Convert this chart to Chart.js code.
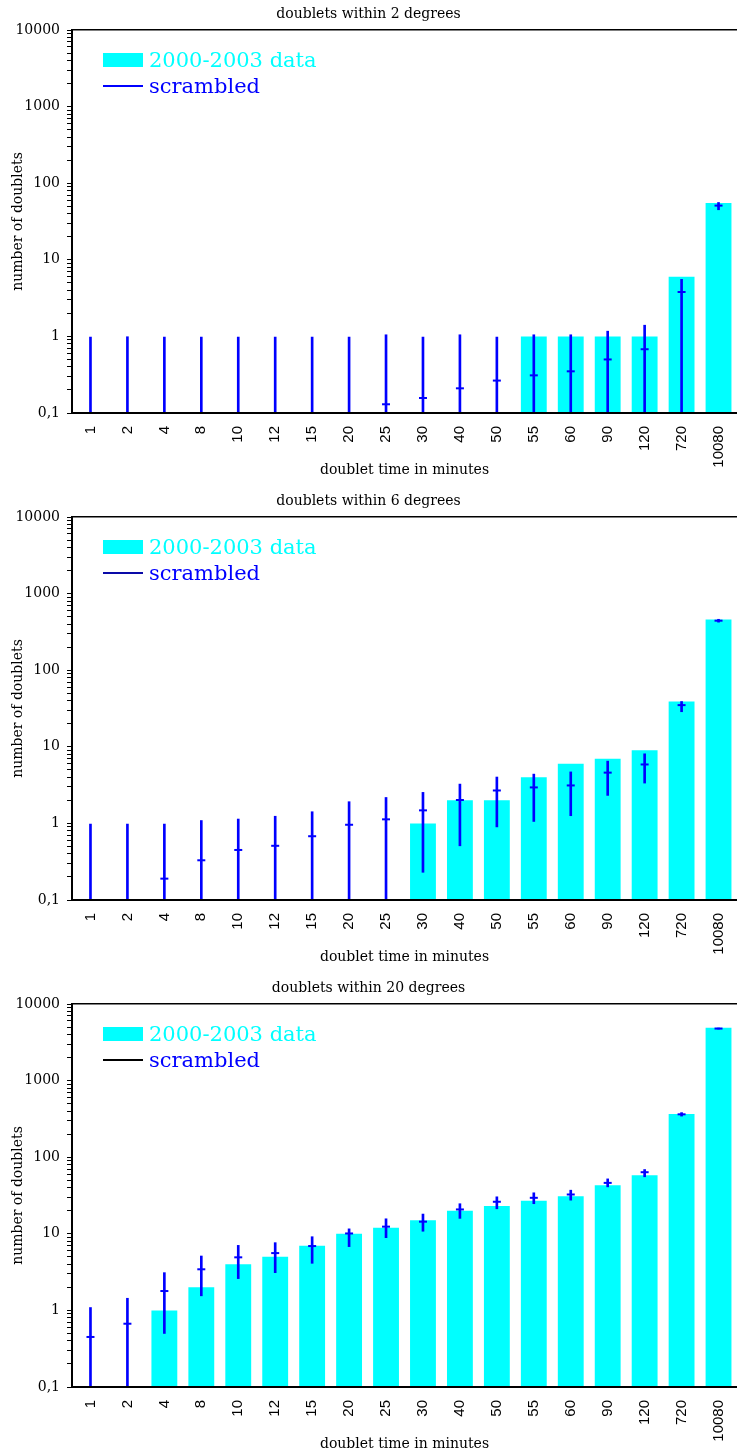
<!DOCTYPE html>
<html>
<head>
<meta charset="utf-8">
<script src="https://cdn.jsdelivr.net/npm/chart.js@4.4.1/dist/chart.umd.min.js"></script>
<style>
  html, body { margin: 0; padding: 0; background: #fff; overflow: hidden; }
  .panel { position: relative; width: 737px; height: 487px; }
  .legend { position: absolute; left: 103px; top: 47px; font: 21px "DejaVu Serif", serif; }
  .legend .row { height: 26px; display: flex; align-items: center; white-space: nowrap; }
  .legend .mark { width: 40px; margin-right: 6px; }
</style>
</head>
<body>
<div class="panel"><canvas id="deg2"></canvas><div class="legend" id="leg2"></div></div>
<div class="panel"><canvas id="deg6"></canvas><div class="legend" id="leg6"></div></div>
<div class="panel"><canvas id="deg20"></canvas><div class="legend" id="leg20"></div></div>
<script>
// doublet counts per time window, real data vs scrambled catalogue (mean with low/high)

var minutes = ["1", "2", "4", "8", "10", "12", "15", "20", "25", "30", "40", "50", "55", "60", "90", "120", "720", "10080"];
var yMajor = [0.1, 1, 10, 100, 1000, 10000];

// within 2 degrees (low ends under 0.1 run off the axis)
var data2 = [null, null, null, null, null, null, null, null, null, null, null, null, 1, 1, 1, 1, 6, 55];
var scr2 = [null, null, null, null, null, null, null, null, 0.13, 0.157, 0.21, 0.265, 0.31, 0.35, 0.5, 0.68, 3.8, 51];
var scr2Low = [0.01, 0.01, 0.01, 0.01, 0.01, 0.01, 0.01, 0.01, 0.01, 0.01, 0.01, 0.01, 0.01, 0.01, 0.01, 0.01, 0.01, 45];
var scr2High = [0.98, 0.99, 0.98, 0.98, 0.98, 0.98, 0.98, 0.98, 1.05, 0.98, 1.05, 0.98, 1.05, 1.05, 1.17, 1.4, 5.55, 56];

// within 6 degrees
var data6 = [null, null, null, null, null, null, null, null, null, 1, 2, 2, 4, 6, 7, 9, 39, 460];
var scr6 = [null, null, 0.19, 0.33, 0.45, 0.51, 0.68, 0.96, 1.13, 1.48, 2.02, 2.69, 2.95, 3.13, 4.6, 5.88, 35, 443];
var scr6Low = [0.01, 0.01, 0.01, 0.01, 0.01, 0.01, 0.01, 0.01, 0.01, 0.23, 0.51, 0.9, 1.06, 1.26, 2.32, 3.36, 28.7, 424];
var scr6High = [0.98, 0.98, 0.98, 1.09, 1.14, 1.24, 1.42, 1.92, 2.18, 2.54, 3.26, 4.03, 4.4, 4.7, 6.5, 8.1, 39, 462];

// within 20 degrees
var data20 = [null, null, 1, 2, 4, 5, 7, 10, 12, 15, 20, 23, 27, 31, 43, 58, 366, 4900];
var scr20 = [0.45, 0.67, 1.79, 3.44, 4.93, 5.6, 6.92, 10.1, 12.4, 14.4, 20.8, 26.2, 29.5, 32.6, 46.2, 63.7, 363, 4780];
var scr20Low = [0.01, 0.01, 0.5, 1.55, 2.6, 3.11, 4.12, 6.8, 8.9, 10.8, 15.9, 21.2, 24.7, 27.5, 41, 55.5, 344, 4710];
var scr20High = [1.09, 1.44, 3.11, 5.13, 7.06, 7.66, 9.16, 11.6, 15.7, 18.1, 24.7, 30.4, 34.3, 37.1, 52.1, 69, 382, 4850];

var CYAN = "#00ffff";
var BLUE = "#0000ff";
var serif = "'DejaVu Serif', serif";

// ticks at 1..9 of every decade, labels only on the decades
var yTicks = [];
yMajor.slice(0, -1).forEach(function (d) {
	for (var k = 1; k < 10; k++) yTicks.push(+(d * k).toPrecision(3));
});
yTicks.push(yMajor[yMajor.length - 1]);

function isMajor(v) {
	var l = Math.log10(v);
	return Math.abs(l - Math.round(l)) < 1e-9;
}

function makeChart(id, legId, title, bars, mean, low, high, legendLine) {
	var ranges = high.map(function (h, i) { return h == null ? null : [low[i], h]; });

	new Chart(document.getElementById(id), {
		type: "bar",
		data: {
			labels: minutes,
			datasets: [
				{
					label: "2000-2003 data",
					data: bars,
					backgroundColor: CYAN,
					barPercentage: 0.7,
					categoryPercentage: 1,
					grouped: false,
					order: 3,
				},
				{
					label: "scrambled",
					data: ranges,
					backgroundColor: BLUE,
					barThickness: 2,
					grouped: false,
					order: 2,
				},
				{
					type: "line",
					label: "scrambled mean",
					data: mean,
					showLine: false,
					pointStyle: "line",
					pointRadius: 4,
					pointBorderWidth: 2,
					pointBorderColor: BLUE,
					borderColor: BLUE,
					order: 1,
				},
			],
		},
		options: {
			responsive: true,
			maintainAspectRatio: false,
			animation: false,
			layout: { padding: 0, autoPadding: false },
			plugins: {
				legend: { display: false },
				tooltip: { enabled: false },
				title: {
					display: true,
					text: title,
					color: "#000",
					font: { family: serif, size: 14, weight: "normal" },
					padding: { top: 6, bottom: 7.2 },
				},
			},
			scales: {
				x: {
					type: "category",
					offset: true,
					afterFit: function (scale) {
						scale.height = 74;
						// rotated labels fit inside the category offset, keep the plot to the edge
						scale.paddingLeft = 0;
						scale.paddingRight = 0;
					},
					ticks: {
						autoSkip: false,
						minRotation: 90,
						maxRotation: 90,
						padding: 13,
						color: "#000",
						font: { family: "'Liberation Sans', sans-serif", size: 15 },
					},
					grid: { display: false, drawTicks: false },
					border: { color: "#000", width: 2, z: 1 },
					title: {
						display: true,
						text: "doublet time in minutes",
						color: "#000",
						font: { family: serif, size: 14 },
						padding: { top: 0, bottom: 8.6 },
					},
				},
				x2: {
					type: "category",
					position: "top",
					ticks: { display: false },
					grid: { display: false, drawTicks: false },
					border: { color: "#000", width: 1.5 },
				},
				y: {
					type: "logarithmic",
					min: 0.1,
					max: 10000,
					afterBuildTicks: function (scale) {
						scale.ticks = yTicks.map(function (v) { return { value: v }; });
					},
					afterFit: function (scale) { scale.width = 72; },
					ticks: {
						autoSkip: false,
						padding: 7,
						color: "#000",
						font: { family: serif, size: 14 },
						callback: function (v) {
							if (!isMajor(v)) return "";
							return v < 1 ? String(v).replace(".", ",") : String(v);
						},
					},
					grid: { drawOnChartArea: false, tickLength: 5, color: "#000", tickWidth: 1 },
					border: { color: "#000", width: 2 },
					title: {
						display: true,
						text: "number of doublets",
						color: "#000",
						font: { family: serif, size: 14 },
						padding: { top: 10, bottom: 0 },
					},
				},
			},
		},
	});

	// legend drawn as html over the plot
	var leg = document.getElementById(legId);
	leg.innerHTML =
		'<div class="row"><span class="mark" style="height:14px;background:' + CYAN + '"></span>' +
		'<span style="color:' + CYAN + '">2000-2003 data</span></div>' +
		'<div class="row"><span class="mark" style="height:2.5px;background:' + legendLine + '"></span>' +
		'<span style="color:' + BLUE + '">scrambled</span></div>';
}

makeChart("deg2", "leg2", "doublets within 2 degrees", data2, scr2, scr2Low, scr2High, BLUE);
makeChart("deg6", "leg6", "doublets within 6 degrees", data6, scr6, scr6Low, scr6High, "#0a0aa8");
makeChart("deg20", "leg20", "doublets within 20 degrees", data20, scr20, scr20Low, scr20High, "#000");
</script>
</body>
</html>
